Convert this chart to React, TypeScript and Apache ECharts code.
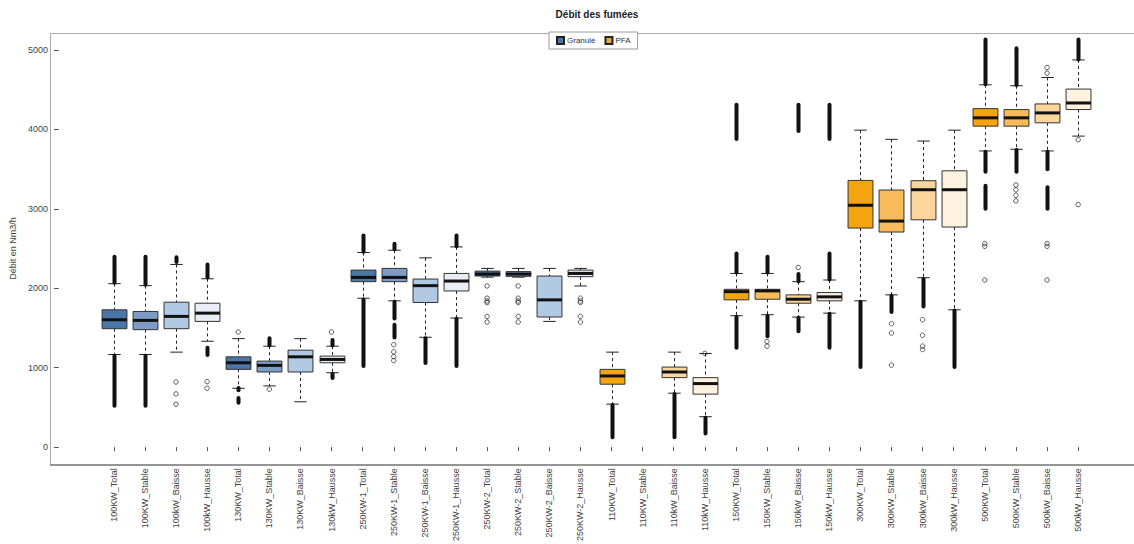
import React, { useEffect, useRef } from "react";
import * as echarts from "echarts";

const categories = [
  "100KW_Total", "100KW_Stable", "100kW_Baisse", "100kW_Hausse",
  "130KW_Total", "130KW_Stable", "130KW_Baisse", "130kW_Hausse",
  "250KW-1_Total", "250KW-1_Stable", "250KW-1_Baisse", "250KW-1_Hausse",
  "250KW-2_Total", "250KW-2_Stable", "250KW-2_Baisse", "250KW-2_Hausse",
  "110KW_Total", "110KW_Stable", "110kW_Baisse", "110kW_Hausse",
  "150KW_Total", "150KW_Stable", "150kW_Baisse", "150kW_Hausse",
  "300KW_Total", "300KW_Stable", "300kW_Baisse", "300kW_Hausse",
  "500KW_Total", "500KW_Stable", "500kW_Baisse", "500kW_Hausse",
];

// box statistics per category (null = no data)
const whiskerLow = [1166, 1166, 1196, 1333, 741, 771, 571, 937, 1875, 1842, 1383, 1625, 2140, 2140, 1583, 2029, 541, null, 679, 383, 1654, 1667, 1637, 1687, 1842, 1917, 2133, 1729, 3729, 3750, 3729, 3916];
const quart1 = [1491, 1479, 1491, 1583, 979, 946, 946, 1062, 2083, 2083, 1821, 1966, 2154, 2150, 1638, 2146, 792, null, 875, 667, 1854, 1862, 1812, 1842, 2758, 2708, 2862, 2771, 4041, 4041, 4083, 4250];
const medians = [1604, 1596, 1646, 1687, 1062, 1029, 1137, 1104, 2137, 2137, 2033, 2091, 2179, 2179, 1854, 2187, 896, null, 946, 800, 1958, 1967, 1862, 1892, 3045, 2846, 3241, 3241, 4146, 4146, 4208, 4333];
const quart3 = [1729, 1708, 1825, 1812, 1137, 1083, 1221, 1146, 2229, 2250, 2116, 2187, 2216, 2210, 2154, 2229, 979, null, 1008, 875, 1987, 1987, 1917, 1946, 3358, 3237, 3354, 3479, 4262, 4250, 4321, 4508];
const whiskerHigh = [2058, 2033, 2300, 2120, 1366, 1271, 1366, 1271, 2450, 2479, 2383, 2521, 2250, 2250, 2250, 2250, 1196, null, 1196, 1179, 2187, 2187, 2083, 2104, 3991, 3875, 3854, 3991, 4562, 4550, 4654, 4875];

// dense runs of outliers that merge into solid bars: [category index, from, to]
const denseOutlierRuns: [number, number, number][] = [
  [0, 2070, 2396], [0, 521, 1150],
  [1, 2045, 2396], [1, 521, 1150],
  [2, 2330, 2390],
  [3, 2135, 2300], [3, 1160, 1250],
  [4, 560, 620], [4, 715, 745],
  [5, 1280, 1370],
  [7, 1280, 1350], [7, 870, 925],
  [8, 2460, 2666], [8, 1021, 1860],
  [9, 2490, 2562], [9, 1620, 1830], [9, 1380, 1540],
  [10, 1060, 1370],
  [11, 2530, 2666], [11, 1021, 1615],
  [16, 125, 530],
  [18, 125, 670],
  [19, 170, 370],
  [20, 2200, 2437], [20, 1250, 1640], [20, 3880, 4312],
  [21, 2200, 2396], [21, 1396, 1650],
  [22, 2090, 2180], [22, 1458, 1630], [22, 3980, 4312],
  [23, 2110, 2437], [23, 1250, 1680], [23, 3880, 4312],
  [24, 1008, 1830],
  [25, 1700, 1905],
  [26, 1771, 2120],
  [27, 1008, 1720],
  [28, 4570, 5133], [28, 3466, 3720], [28, 3000, 3290],
  [29, 4560, 5021], [29, 3466, 3740],
  [30, 3500, 3720], [30, 3000, 3271],
  [31, 4880, 5133],
];

// isolated outliers: [category index, value]
const outliers: [number, number][] = [
  [2, 820], [2, 670], [2, 540],
  [3, 825], [3, 741],
  [4, 1450],
  [5, 729],
  [7, 1450],
  [9, 1290], [9, 1200], [9, 1140], [9, 1090],
  [12, 2029], [12, 1875], [12, 1840], [12, 1821], [12, 1646], [12, 1575],
  [13, 2029], [13, 1875], [13, 1840], [13, 1821], [13, 1646], [13, 1575],
  [15, 1875], [15, 1840], [15, 1821], [15, 1646], [15, 1575],
  [19, 1180],
  [21, 1330], [21, 1271],
  [22, 2262],
  [25, 1554], [25, 1437], [25, 1033],
  [26, 1604], [26, 1408], [26, 1271], [26, 1229],
  [28, 2563], [28, 2529], [28, 2104],
  [29, 3300], [29, 3240], [29, 3170], [29, 3100],
  [30, 4779], [30, 4708], [30, 2563], [30, 2529], [30, 2104],
  [31, 3870], [31, 3054],
];

const yTicks = [0, 1000, 2000, 3000, 4000, 5000];

const bluePalette = ["#4a76a8", "#7c9dc5", "#b2c9e4", "#e8eef6"];
const orangePalette = ["#f5a30f", "#f7bb5a", "#fad69c", "#fdf1df"];

const FONT = "'Liberation Sans', Arial, Helvetica, sans-serif";

function boxData(from: number, to: number) {
  const out: number[][] = [];
  for (let i = from; i < to; i++) {
    if (medians[i] == null) continue;
    out.push([i, whiskerLow[i] as number, quart1[i] as number, medians[i] as number, quart3[i] as number, whiskerHigh[i] as number]);
  }
  return out;
}

function makeRenderBox(palette: string[]) {
  return (_params: any, api: any) => {
    const i = api.value(0);
    const lo = api.coord([i, api.value(1)]);
    const b1 = api.coord([i, api.value(2)]);
    const md = api.coord([i, api.value(3)]);
    const b3 = api.coord([i, api.value(4)]);
    const hi = api.coord([i, api.value(5)]);
    const band = api.size([1, 0])[0];
    const w = band * 0.8;
    const x = Math.round(lo[0]) + 0.5;
    const fill = palette[i % 4];
    const dash = { stroke: "#222", lineWidth: 1, lineDash: [3, 3] };
    const solid = { stroke: "#222", lineWidth: 1 };
    return {
      type: "group",
      children: [
        { type: "line", shape: { x1: x, y1: hi[1], x2: x, y2: b3[1] }, style: dash },
        { type: "line", shape: { x1: x, y1: b1[1], x2: x, y2: lo[1] }, style: dash },
        { type: "line", shape: { x1: x - w / 4, y1: hi[1], x2: x + w / 4, y2: hi[1] }, style: solid },
        { type: "line", shape: { x1: x - w / 4, y1: lo[1], x2: x + w / 4, y2: lo[1] }, style: solid },
        {
          type: "rect",
          shape: { x: x - w / 2, y: b3[1], width: w, height: b1[1] - b3[1] },
          style: { fill, stroke: "#333", lineWidth: 1 },
        },
        { type: "line", shape: { x1: x - w / 2, y1: md[1], x2: x + w / 2, y2: md[1] }, style: { stroke: "#111", lineWidth: 3 } },
      ],
    };
  };
}

const renderRun = (_params: any, api: any) => {
  const i = api.value(0);
  const a = api.coord([i, api.value(1)]);
  const b = api.coord([i, api.value(2)]);
  const x = Math.round(a[0]) + 0.5;
  const w = 4;
  return {
    type: "rect",
    shape: { x: x - w / 2, y: b[1] - w / 2, width: w, height: a[1] - b[1] + w, r: w / 2 },
    style: { fill: "#111" },
  };
};

export default function App() {
  const ref = useRef<HTMLDivElement>(null);
  useEffect(() => {
    if (!ref.current) return;
    const chart = echarts.init(ref.current, null, { renderer: "svg" });
    const yMin = yTicks[0];
    const yMax = yTicks[yTicks.length - 1];
    chart.setOption({
      animation: false,
      backgroundColor: "#fff",
      textStyle: { fontFamily: FONT },
      title: {
        text: "Débit des fumées",
        left: 592,
        textAlign: "center",
        top: 4,
        textStyle: { fontFamily: FONT, fontSize: 10, fontWeight: "bold", color: "#222" },
      },
      legend: {
        data: ["Granulé", "PFA"],
        left: 549,
        top: 32,
        orient: "horizontal",
        icon: "rect",
        itemWidth: 7,
        itemHeight: 7,
        itemGap: 9,
        padding: [4, 7, 4, 7],
        borderColor: "#999",
        borderWidth: 1,
        backgroundColor: "#fff",
        textStyle: { fontFamily: FONT, fontSize: 8, color: "#333", padding: [0, 0, 0, -2] },
      },
      grid: { left: 89.3, right: 40.3, top: 50, bottom: 94, containLabel: false },
      xAxis: {
        type: "category",
        data: categories,
        offset: 15,
        boundaryGap: true,
        axisLine: { show: false },
        axisTick: { show: true, alignWithLabel: true, length: 4, lineStyle: { color: "#555" } },
        axisLabel: { interval: 0, rotate: 90, fontSize: 9, color: "#444", margin: 6, fontFamily: FONT },
        splitLine: { show: false },
      },
      yAxis: {
        type: "value",
        min: yMin,
        max: yMax,
        interval: 1000,
        offset: 39.3,
        name: "Débit en Nm3/h",
        nameLocation: "middle",
        nameRotate: 90,
        nameGap: 32,
        nameTextStyle: { fontFamily: FONT, fontSize: 9, color: "#444" },
        axisLine: { show: false },
        axisTick: { show: true, length: 5, lineStyle: { color: "#555" } },
        axisLabel: { fontSize: 9, color: "#444", margin: 11, fontFamily: FONT, formatter: (v: number) => String(v) },
        splitLine: { show: false },
      },
      graphic: [
        {
          type: "rect",
          z: -1,
          silent: true,
          shape: { x: 50.5, y: 33.5, width: 1100, height: 431.5 },
          style: { fill: "none", stroke: "#aaa", lineWidth: 1 },
        },
        {
          type: "line",
          z: -1,
          silent: true,
          shape: { x1: 50, y1: 465, x2: 1134, y2: 465 },
          style: { stroke: "#555", lineWidth: 1 },
        },
      ],
      series: [
        {
          name: "Granulé",
          type: "custom",
          renderItem: makeRenderBox(bluePalette),
          encode: { x: 0, y: [1, 2, 3, 4, 5] },
          itemStyle: { color: "#4a76a8", borderColor: "#222", borderWidth: 1 },
          data: boxData(0, 16),
          z: 3,
        },
        {
          name: "PFA",
          type: "custom",
          renderItem: makeRenderBox(orangePalette),
          encode: { x: 0, y: [1, 2, 3, 4, 5] },
          itemStyle: { color: "#e0aa45", borderColor: "#222", borderWidth: 1 },
          data: boxData(16, 32),
          z: 3,
        },
        {
          name: "runs",
          type: "custom",
          renderItem: renderRun,
          encode: { x: 0, y: [1, 2] },
          data: denseOutlierRuns,
          z: 4,
        },
        {
          name: "outliers",
          type: "scatter",
          symbol: "circle",
          symbolSize: 4.5,
          clip: false,
          itemStyle: { color: "rgba(255,255,255,0)", borderColor: "#222", borderWidth: 0.9 },
          data: outliers,
          z: 5,
        },
      ],
    });
    return () => chart.dispose();
  }, []);
  return <div ref={ref} style={{ position: "fixed", left: 0, top: 0, width: 1134, height: 544 }} />;
}
